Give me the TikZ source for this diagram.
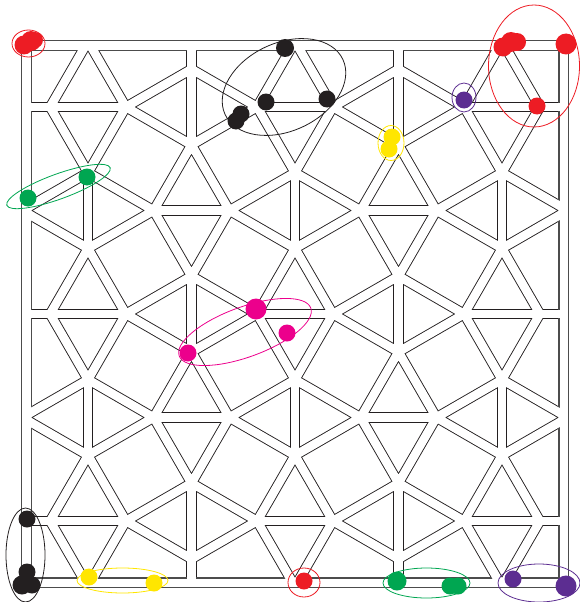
\documentclass[tikz,border=0pt]{standalone}
\usepackage{xcolor}
\usepackage{tikz}

\definecolor{mkred}{RGB}{237,28,36}
\definecolor{mkgreen}{RGB}{0,166,81}
\definecolor{mkyellow}{RGB}{255,230,0}
\definecolor{mkpink}{RGB}{236,0,140}
\definecolor{mkpurple}{RGB}{92,45,145}
\definecolor{mkblack}{RGB}{35,31,32}

\begin{document}
\begin{tikzpicture}[x=1pt, y=-1pt,
    blob/.style={circle, inner sep=0pt, minimum size=17pt},
    ring/.style={line width=0.8pt}]
  \useasboundingbox (0,0) rectangle (579,602);
  \pgfmathsetmacro{\ea}{75.77}
  \pgfmathsetmacro{\eh}{\ea*sqrt(3)/2}
  \pgfmathsetmacro{\ew}{\ea/2}
  \def\sp{103.5}

  % Struts: dark pass, then white pass
  \foreach \col/\wd/\fcol/\fwd in {mkblack/10.4/black!70/11.2, white/8.6/white/8.6} {
    \begin{scope}
      \clip (26.2,45.5) rectangle (563.8,582.8);
      \begin{scope}[draw=\col, line width=\wd pt, line cap=round, line join=round]
        % pairs of triangles
        \foreach \i in {0,...,4} {
          \foreach \j in {0,...,4} {
            \pgfmathsetmacro{\cx}{88+\sp*\i}
            \pgfmathsetmacro{\cy}{107+\sp*\j}
            \pgfmathtruncatemacro{\odd}{mod(\i+\j,2)}
            \ifnum\odd=0
              \draw (\cx-\ew,\cy) -- (\cx+\ew,\cy);
              \draw (\cx-\ew,\cy) -- (\cx,\cy-\eh) -- (\cx+\ew,\cy) -- (\cx,\cy+\eh) -- cycle;
            \else
              \draw (\cx,\cy-\ew) -- (\cx,\cy+\ew);
              \draw (\cx,\cy-\ew) -- (\cx+\eh,\cy) -- (\cx,\cy+\ew) -- (\cx-\eh,\cy) -- cycle;
            \fi
          }
        }
        % ties to the frame
        \foreach \y in {107,314,521} {
          \draw (88-\ew,\y) -- (0,\y);
          \draw (502+\ew,\y) -- (600,\y);
        }
        \foreach \x in {191.5,398.5} {
          \draw (\x,107-\ew) -- (\x,0);
          \draw (\x,521+\ew) -- (\x,620);
        }
      \end{scope}
    \end{scope}
    % Frame
    \draw[\fcol, line width=\fwd pt] (26.2,45.5) rectangle (563.8,582.8);
  }

  % Top left
  \node[blob, fill=mkred, minimum size=19pt] (redA) at (24,45) {};
  \node[blob, fill=mkred, minimum size=20pt] (redB) at (31,41) {};
  \node[blob, fill=mkred, minimum size=16pt] (redC) at (35,40) {};
  \draw[ring, mkred] (28.5,43.5) ellipse [x radius=16.5, y radius=13.5];

  % Top middle
  \node[blob, fill=mkblack, minimum size=18pt] (blkA) at (285,48) {};
  \node[blob, fill=mkblack] (blkB) at (266,102) {};
  \node[blob, fill=mkblack] (blkC) at (327,99) {};
  \node[blob, fill=mkblack] (blkD) at (236,121) {};
  \node[blob, fill=mkblack] (blkE) at (241,114) {};
  \draw[ring, mkblack, rotate around={25:(284,87)}] (284,87) ellipse [x radius=65, y radius=44];

  % Top right
  \node[blob, fill=mkyellow] (ylwA) at (392,137) {};
  \node[blob, fill=mkyellow] (ylwB) at (389,149) {};
  \draw[ring, mkyellow] (391,143) ellipse [x radius=13, y radius=17.5];
  \node[blob, fill=mkpurple] (prpA) at (464,100) {};
  \draw[ring, mkpurple] (464,97.5) ellipse [x radius=12, y radius=14.5];
  \node[blob, fill=mkred, minimum size=19pt] (redD) at (503,47) {};
  \node[blob, fill=mkred, minimum size=20pt] (redE) at (511,42) {};
  \node[blob, fill=mkred, minimum size=18pt] (redF) at (517,42) {};
  \node[blob, fill=mkred, minimum size=21pt] (redG) at (566,44) {};
  \node[blob, fill=mkred] (redH) at (537,106) {};
  \draw[ring, mkred] (534,66) ellipse [x radius=45.5, y radius=61];

  % Left and centre
  \node[blob, fill=mkgreen] (grnA) at (28,198) {};
  \node[blob, fill=mkgreen] (grnB) at (87,177) {};
  \draw[ring, mkgreen, rotate around={20:(58.5,186.5)}] (58.5,186.5) ellipse [x radius=55, y radius=12.5];
  \node[blob, fill=mkpink, minimum size=21pt] (pnkA) at (256,309) {};
  \node[blob, fill=mkpink] (pnkB) at (287,333) {};
  \node[blob, fill=mkpink] (pnkC) at (188,353) {};
  \draw[ring, mkpink, rotate around={20:(245,332)}] (245,332) ellipse [x radius=70, y radius=25];

  % Bottom row
  \node[blob, fill=mkblack] (blkF) at (27,519) {};
  \node[blob, fill=mkblack] (blkG) at (27,572) {};
  \node[blob, fill=mkblack, minimum size=19pt] (blkH) at (22,585) {};
  \node[blob, fill=mkblack] (blkI) at (32,585) {};
  \draw[ring, mkblack] (25.5,555) ellipse [x radius=19.5, y radius=47];
  \node[blob, fill=mkyellow] (ylwC) at (89,577) {};
  \node[blob, fill=mkyellow] (ylwD) at (154,583) {};
  \draw[ring, mkyellow] (122.5,580.5) ellipse [x radius=45.5, y radius=12.5];
  \node[blob, fill=mkred] (redI) at (304,581) {};
  \draw[ring, mkred] (304,582.5) ellipse [x radius=16, y radius=14.5];
  \node[blob, fill=mkgreen, minimum size=19pt] (grnC) at (397,581) {};
  \node[blob, fill=mkgreen] (grnD) at (450,586) {};
  \node[blob, fill=mkgreen] (grnE) at (458,586) {};
  \draw[ring, mkgreen] (426.5,583) ellipse [x radius=43.5, y radius=15];
  \node[blob, fill=mkpurple] (prpB) at (513,579) {};
  \node[blob, fill=mkpurple, minimum size=21pt] (prpC) at (566,586) {};
  \draw[ring, mkpurple] (539,583) ellipse [x radius=41, y radius=19];
\end{tikzpicture}
\end{document}
